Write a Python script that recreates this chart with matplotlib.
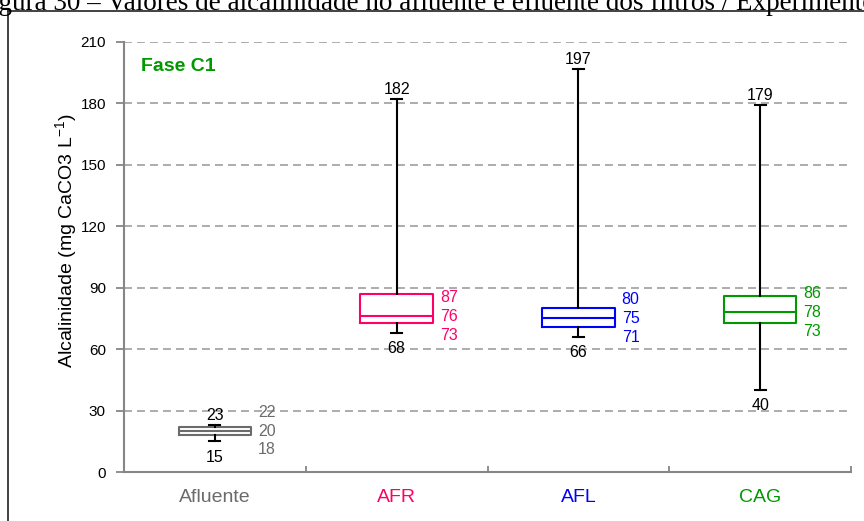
import matplotlib
matplotlib.use("Agg")
import matplotlib.pyplot as plt
from matplotlib.lines import Line2D

plt.rcParams['font.family'] = ['Liberation Sans', 'DejaVu Sans']

# valores (mg CaCO3/L)
categorias = ['Afluente', 'AFR', 'AFL', 'CAG']
maximos = [23, 182, 197, 179]
q3 = [22, 87, 80, 86]
medianas = [20, 76, 75, 78]
q1 = [18, 73, 71, 73]
minimos = [15, 68, 66, 40]
cores = ['#6b6b6b', '#ff0066', '#0000ff', '#009900']
yticks = [0, 30, 60, 90, 120, 150, 180, 210]

fig = plt.figure(figsize=(8.64, 5.21), dpi=100)
ax = fig.add_axes([124 / 864, 49 / 521, 727 / 864, 430 / 521])

stats = []
for i in range(len(categorias)):
    stats.append({'med': medianas[i], 'q1': q1[i], 'q3': q3[i],
                  'whislo': minimos[i], 'whishi': maximos[i], 'label': categorias[i]})

pos = list(range(len(categorias)))
bp = ax.bxp(stats, positions=pos, widths=0.4, showfliers=False, capwidths=0.06,
            whiskerprops=dict(color='black', lw=1.5),
            capprops=dict(color='black', lw=1.5),
            boxprops=dict(lw=1.5), medianprops=dict(lw=1.5), zorder=3)
for i, c in enumerate(cores):
    bp['boxes'][i].set_color(c)
    bp['medians'][i].set_color(c)

for i in pos:
    ax.annotate(str(maximos[i]), (i, maximos[i]), xytext=(0, 1.5), textcoords='offset points',
                ha='center', va='bottom', fontsize=11.5, color='black')
    ax.annotate(str(minimos[i]), (i, minimos[i]), xytext=(0, -6), textcoords='offset points',
                ha='center', va='top', fontsize=11.5, color='black')
    for val, dy in [(q3[i], 13.5), (medianas[i], 0), (q1[i], -13.5)]:
        ax.annotate(str(val), (i + 0.2, medianas[i]), xytext=(5, dy), textcoords='offset points',
                    ha='left', va='center', fontsize=11.5, color=cores[i])

ax.set_xlim(-0.5, 3.5)
ax.set_ylim(0, 210)
ax.set_yticks(yticks)
ax.set_yticklabels([str(v) for v in yticks], fontsize=11)
ax.set_xticks(pos)
ax.set_xticklabels(categorias, fontsize=14)
for lab, c in zip(ax.get_xticklabels(), cores):
    lab.set_color(c)
ax.tick_params(axis='x', length=0, pad=12)
ax.tick_params(axis='y', direction='out', length=6, width=1.3, color='#868686', pad=7)
# pequenos tracos entre categorias
ax.set_xticks([0.5, 1.5, 2.5, 3.5], minor=True)
ax.tick_params(axis='x', which='minor', direction='in', length=4, width=1.3, color='#868686')

for y in yticks[1:]:
    ax.axhline(y, color='#a6a6a6', lw=1.3, linestyle=(0, (4.4, 2.8)), zorder=1)

for s in ['top', 'right']:
    ax.spines[s].set_visible(False)
for s in ['left', 'bottom']:
    ax.spines[s].set_color('#868686')
    ax.spines[s].set_linewidth(1.5)

ax.set_ylabel('Alcalinidade (mg CaCO3 L$^{\\mathregular{-1}}$)', fontsize=14)
ax.yaxis.set_label_coords(-0.060, 0.537)
ax.text(0.024, 0.962, 'Fase C1', transform=ax.transAxes, fontsize=14, fontweight='bold',
        color='#009900', ha='left', va='top')

# moldura e legenda cortadas do documento original
fig.add_artist(Line2D([8 / 864, 8 / 864], [0, 1 - 11 / 521], color='#333333', lw=1.3))
fig.add_artist(Line2D([8 / 864, 1], [1 - 11 / 521, 1 - 11 / 521], color='#333333', lw=1.3))
fig.text(-24 / 864, 1 - 10 / 521, 'Figura 30 \u2013 Valores de alcalinidade no afluente e efluente dos filtros / Experimento',
         family='Liberation Serif', fontsize=19.5, ha='left', va='baseline')

fig.savefig('out.png', dpi=100)
